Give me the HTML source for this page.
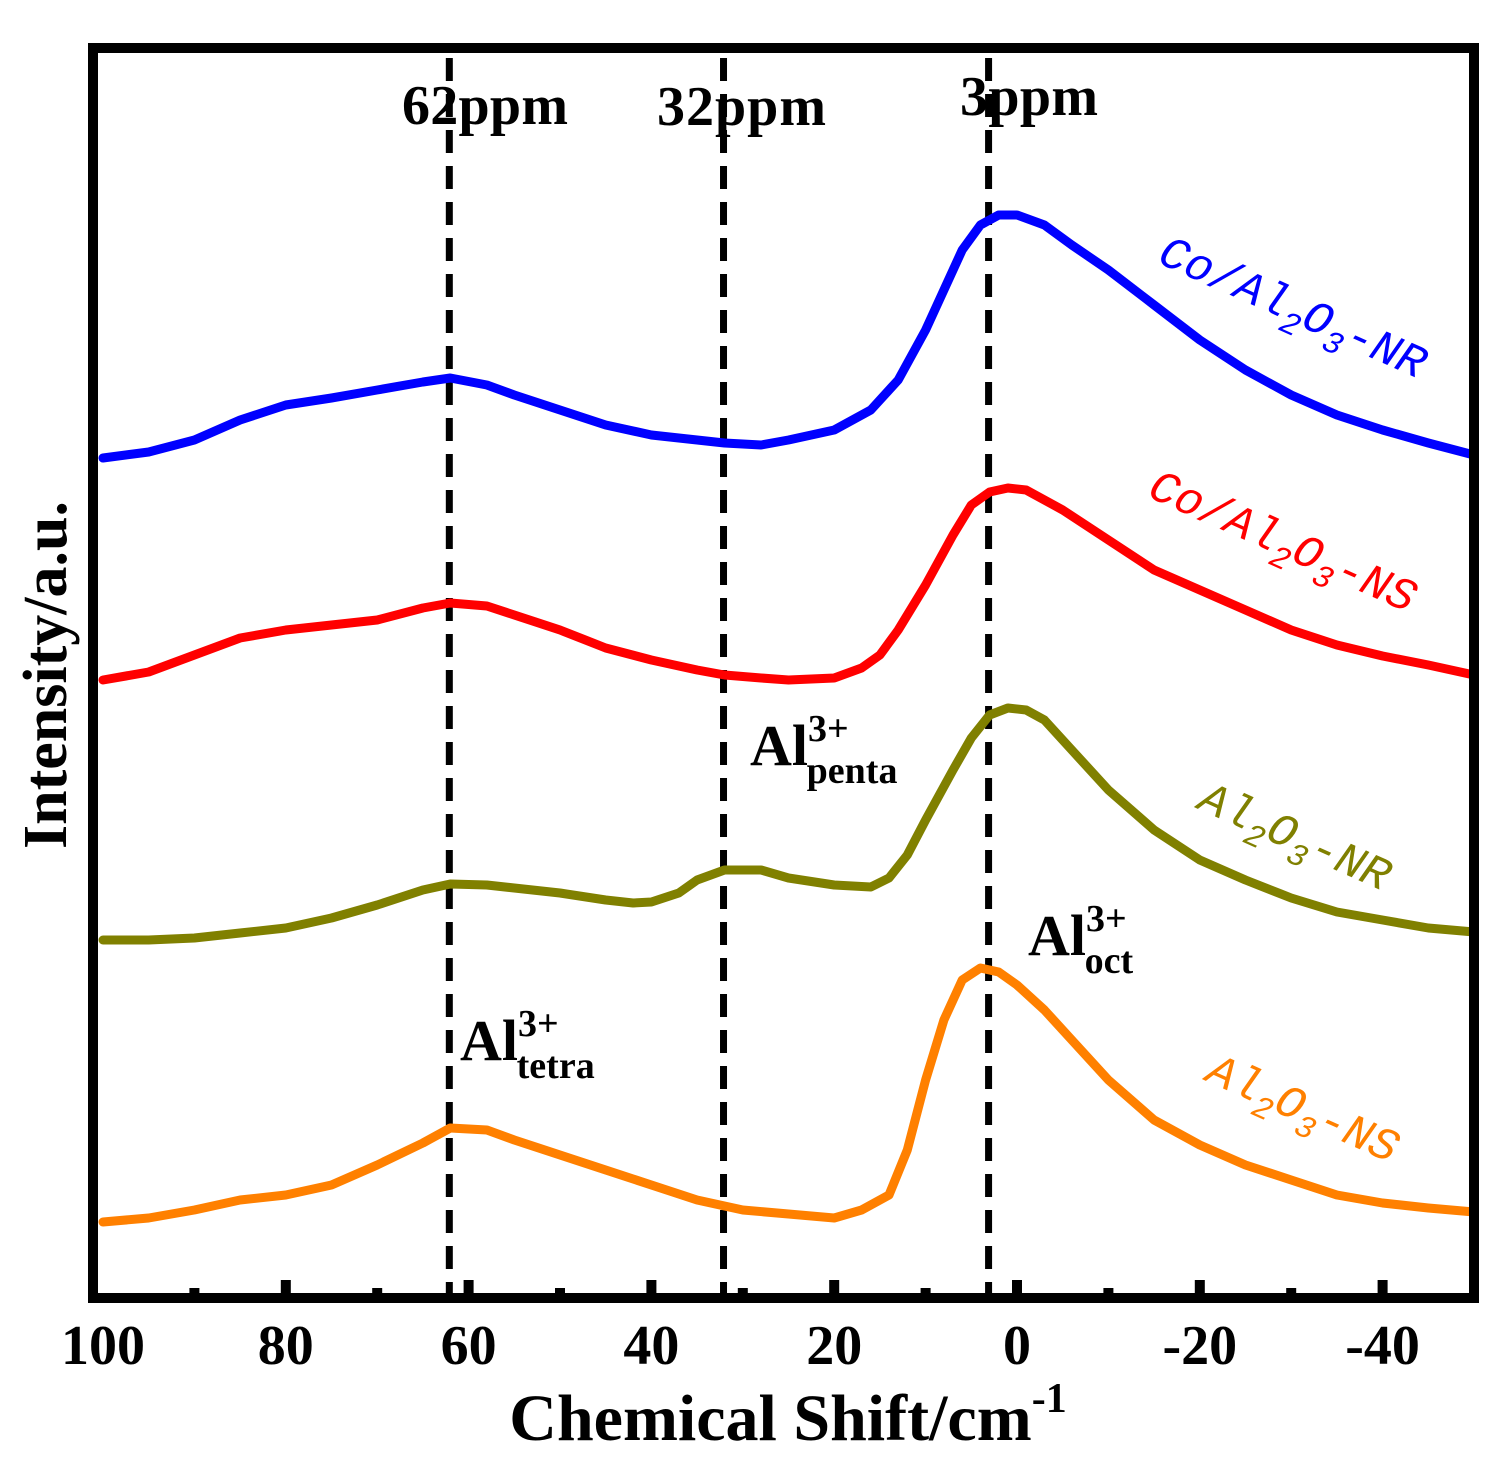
<!DOCTYPE html>
<html><head><meta charset="utf-8"><style>
html,body{margin:0;padding:0;background:#fff;}
svg{display:block;font-family:"Liberation Serif",serif;}
</style></head><body>
<svg id="chart" width="1502" height="1470" viewBox="0 0 1502 1470">
<g id="marks"></g>
<rect x="93" y="48" width="1381" height="1250" fill="none" stroke="#000" stroke-width="10"/>
<g id="ticks"></g>
<text x="788" y="1440" font-size="66" font-weight="bold" text-anchor="middle">Chemical Shift/cm<tspan font-size="42" dy="-28">-1</tspan></text>
<text transform="translate(66,675) rotate(-90)" font-size="62" font-weight="bold" text-anchor="middle">Intensity/a.u.</text>
<g font-weight="bold" font-size="56">
<text x="402" y="124" textLength="166">62ppm</text>
<text x="657" y="125" textLength="169">32ppm</text>
<text x="960" y="115" textLength="138">3ppm</text>
</g>
<g font-weight="bold">
<text x="750" y="765" font-size="58">Al<tspan font-size="38" dy="-24">3+</tspan><tspan font-size="38" dx="-42" dy="42">penta</tspan></text>
<text x="1028" y="955" font-size="58">Al<tspan font-size="38" dy="-24">3+</tspan><tspan font-size="38" dx="-42" dy="42">oct</tspan></text>
<text x="460" y="1060" font-size="58">Al<tspan font-size="38" dy="-24">3+</tspan><tspan font-size="38" dx="-42" dy="42">tetra</tspan></text>
</g>
<g font-style="italic" font-size="46" font-family="Liberation Mono, monospace">
<text transform="translate(1156,262) rotate(24)" fill="#0000ff">Co/Al<tspan font-size="32" dy="12">2</tspan><tspan dy="-12">O</tspan><tspan font-size="32" dy="12">3</tspan><tspan dy="-12">-NR</tspan></text>
<text transform="translate(1146,496) rotate(24)" fill="#ff0000">Co/Al<tspan font-size="32" dy="12">2</tspan><tspan dy="-12">O</tspan><tspan font-size="32" dy="12">3</tspan><tspan dy="-12">-NS</tspan></text>
<text transform="translate(1196,808) rotate(24)" fill="#808000">Al<tspan font-size="32" dy="12">2</tspan><tspan dy="-12">O</tspan><tspan font-size="32" dy="12">3</tspan><tspan dy="-12">-NR</tspan></text>
<text transform="translate(1204,1080) rotate(24)" fill="#ff8000">Al<tspan font-size="32" dy="12">2</tspan><tspan dy="-12">O</tspan><tspan font-size="32" dy="12">3</tspan><tspan dy="-12">-NS</tspan></text>
</g>
</svg>
<script>
const blueX=[100,95,90,85,80,75,70,65,62,58,55,50,45,40,35,32,28,25,20,16,13,10,8,6,4,2,0,-3,-6,-10,-15,-20,-25,-30,-35,-40,-45,-50];
const blueY=[842,848,860,880,895,902,910,918,922,915,905,890,875,865,860,857,855,860,870,890,920,970,1010,1050,1075,1085,1085,1075,1055,1030,995,960,930,905,885,870,857,845];
const redX=[100,95,90,85,80,75,70,65,62,58,55,50,45,40,35,32,28,25,20,17,15,13,10,7,5,3,1,-1,-5,-10,-15,-20,-25,-30,-35,-40,-45,-50];
const redY=[620,628,645,662,670,675,680,692,697,694,685,670,652,640,630,625,622,620,622,632,645,670,715,765,795,808,812,810,790,760,730,710,690,670,655,644,635,625];
const oliveX=[100,95,90,85,80,75,70,65,62,58,55,50,45,42,40,37,35,32,28,25,20,16,14,12,10,7,5,3,1,-1,-3,-6,-10,-15,-20,-25,-30,-35,-40,-45,-50];
const oliveY=[360,360,362,367,372,382,395,410,416,415,412,407,400,397,398,407,420,430,430,422,415,413,422,445,480,530,562,585,592,590,580,550,510,470,440,420,402,388,380,372,368];
const orangeX=[100,95,90,85,80,75,70,65,62,58,55,50,45,40,35,30,25,20,17,14,12,10,8,6,4,2,0,-3,-6,-10,-15,-20,-25,-30,-35,-40,-45,-50];
const orangeY=[78,82,90,100,105,115,135,157,172,170,160,145,130,115,100,90,86,82,90,105,150,220,280,320,332,328,315,290,260,220,180,155,135,120,105,97,92,88];
const refLines=[62,32,3];
const majorTicks=[100,80,60,40,20,0,-20,-40];
const minorTicks=[90,70,50,30,10,-10,-30];
const tickLabels=["100","80","60","40","20","0","-20","-40"];

const NS='http://www.w3.org/2000/svg';
function xs(v){return 1017-(v*9.14);}
function ys(v){return 1300-v;}
const marks=document.getElementById('marks');
const ticks=document.getElementById('ticks');

refLines.forEach(function(p){
  const l=document.createElementNS(NS,'line');
  l.setAttribute('x1',xs(p)-1);l.setAttribute('x2',xs(p)-1);
  l.setAttribute('y1',58);l.setAttribute('y2',1295);
  l.setAttribute('stroke','#000');l.setAttribute('stroke-width',7);
  l.setAttribute('stroke-dasharray','23,13');
  
  
  marks.appendChild(l);
});

function series(xArr,yArr,color,name){
  let d='';
  for(let i=0;i<xArr.length;i++){d+=(i?'L':'M')+xs(xArr[i]).toFixed(1)+','+ys(yArr[i]).toFixed(1);}
  const p=document.createElementNS(NS,'path');
  p.setAttribute('d',d);p.setAttribute('fill','none');
  p.setAttribute('stroke',color);p.setAttribute('stroke-width',9);
  p.setAttribute('stroke-linejoin','round');p.setAttribute('stroke-linecap','round');
  
  
  marks.appendChild(p);
}
series(blueX,blueY,'#0000ff','series-co-al2o3-nr');
series(redX,redY,'#ff0000','series-co-al2o3-ns');
series(oliveX,oliveY,'#808000','series-al2o3-nr');
series(orangeX,orangeY,'#ff8000','series-al2o3-ns');

majorTicks.forEach(function(t,i){
  if(t!==100){
    const r=document.createElementNS(NS,'rect');
    r.setAttribute('x',xs(t)-5);r.setAttribute('y',1280);
    r.setAttribute('width',10);r.setAttribute('height',14);
    
    
    ticks.appendChild(r);
  }
  const tx=document.createElementNS(NS,'text');
  tx.setAttribute('x',xs(t));tx.setAttribute('y',1364);
  tx.setAttribute('font-size',56);tx.setAttribute('font-weight','bold');
  tx.setAttribute('text-anchor','middle');
  tx.textContent=tickLabels[i];
  
  
  ticks.appendChild(tx);
});
minorTicks.forEach(function(t){
  const r=document.createElementNS(NS,'rect');
  r.setAttribute('x',xs(t)-5);r.setAttribute('y',1288);
  r.setAttribute('width',10);r.setAttribute('height',6);
  
  
  ticks.appendChild(r);
});
</script>
</body></html>
